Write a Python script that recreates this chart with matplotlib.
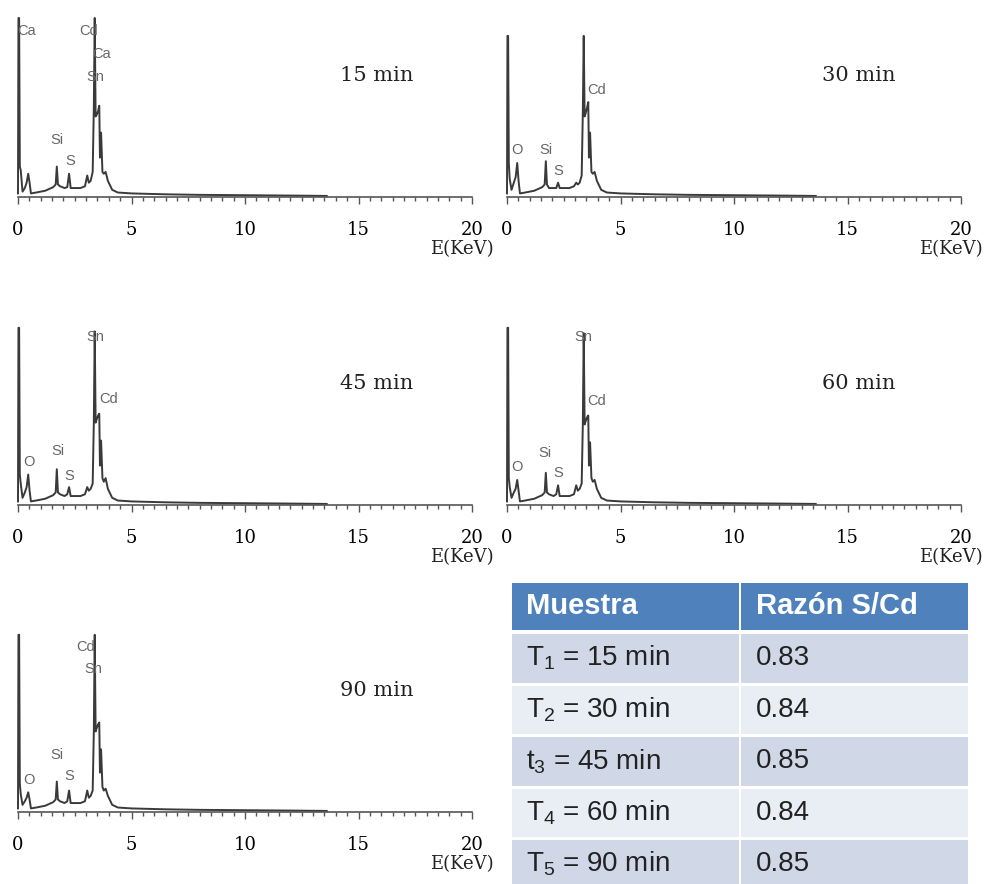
import matplotlib.pyplot as plt
from matplotlib.patches import Rectangle
from matplotlib.ticker import MultipleLocator

plt.rcParams['mathtext.fontset'] = 'custom'
plt.rcParams['mathtext.rm'] = 'Liberation Sans'
plt.rcParams['mathtext.it'] = 'Liberation Sans'
plt.rcParams['mathtext.bf'] = 'Liberation Sans:bold'

# EDS spectra, energy in keV, intensity normalised to the tallest peak
energy = [0.00, 0.02, 0.05, 0.08, 0.12, 0.20, 0.30, 0.38, 0.45, 0.51,
          0.57, 0.80, 1.20, 1.55, 1.66, 1.71, 1.76, 1.85, 2.05, 2.17,
          2.25, 2.32, 2.45, 2.75, 2.95, 3.05, 3.12, 3.20, 3.29, 3.34,
          3.38, 3.42, 3.47, 3.53, 3.58, 3.61, 3.66, 3.72, 3.78, 3.86,
          3.96, 4.15, 4.40, 5.00, 6.50, 8.00, 10.0, 12.0, 13.6]

counts_15 = [0.02, 1.00, 1.00, 0.17, 0.15, 0.03, 0.05, 0.08, 0.13, 0.08,
             0.02, 0.025, 0.035, 0.055, 0.07, 0.17, 0.07, 0.06, 0.05, 0.055,
             0.13, 0.05, 0.05, 0.05, 0.06, 0.12, 0.08, 0.09, 0.14, 0.50,
             1.00, 0.45, 0.46, 0.48, 0.51, 0.22, 0.36, 0.14, 0.13, 0.14,
             0.09, 0.04, 0.025, 0.02, 0.015, 0.012, 0.01, 0.008, 0.006]
counts_30 = [0.02, 0.90, 0.90, 0.19, 0.10, 0.04, 0.08, 0.11, 0.19, 0.09,
             0.02, 0.025, 0.035, 0.055, 0.07, 0.20, 0.07, 0.05, 0.05, 0.05,
             0.08, 0.05, 0.05, 0.05, 0.06, 0.08, 0.07, 0.08, 0.12, 0.47,
             0.90, 0.45, 0.47, 0.50, 0.53, 0.22, 0.36, 0.14, 0.13, 0.14,
             0.09, 0.04, 0.025, 0.02, 0.015, 0.012, 0.01, 0.008, 0.006]
counts_45 = [0.02, 0.99, 0.99, 0.17, 0.12, 0.04, 0.07, 0.10, 0.17, 0.08,
             0.02, 0.025, 0.035, 0.055, 0.07, 0.20, 0.07, 0.06, 0.05, 0.06,
             0.10, 0.05, 0.05, 0.05, 0.06, 0.10, 0.08, 0.09, 0.12, 0.46,
             0.97, 0.46, 0.48, 0.50, 0.51, 0.22, 0.36, 0.15, 0.13, 0.15,
             0.09, 0.04, 0.025, 0.02, 0.015, 0.012, 0.01, 0.008, 0.006]
counts_60 = [0.02, 0.99, 0.99, 0.15, 0.10, 0.04, 0.07, 0.09, 0.14, 0.08,
             0.02, 0.025, 0.035, 0.055, 0.07, 0.18, 0.07, 0.06, 0.05, 0.06,
             0.11, 0.05, 0.05, 0.05, 0.06, 0.11, 0.08, 0.09, 0.12, 0.45,
             0.96, 0.45, 0.47, 0.49, 0.50, 0.22, 0.35, 0.15, 0.13, 0.14,
             0.09, 0.04, 0.025, 0.02, 0.015, 0.012, 0.01, 0.008, 0.006]
counts_90 = [0.02, 0.99, 0.99, 0.16, 0.10, 0.04, 0.06, 0.08, 0.11, 0.07,
             0.02, 0.025, 0.035, 0.055, 0.07, 0.17, 0.07, 0.06, 0.05, 0.06,
             0.12, 0.05, 0.05, 0.05, 0.06, 0.12, 0.08, 0.09, 0.12, 0.45,
             0.99, 0.45, 0.47, 0.49, 0.50, 0.22, 0.35, 0.14, 0.12, 0.13,
             0.09, 0.04, 0.025, 0.02, 0.015, 0.012, 0.01, 0.008, 0.006]

times = ["15 min", "30 min", "45 min", "60 min", "90 min"]
spectra = [counts_15, counts_30, counts_45, counts_60, counts_90]

# element tags: (name, energy, height)
peak_tags = [
    [("Ca", 0.37, 0.93), ("Cd", 3.10, 0.93), ("Ca", 3.68, 0.80),
     ("Sn", 3.39, 0.67), ("Si", 1.72, 0.32), ("S", 2.30, 0.20)],
    [("Cd", 3.96, 0.60), ("O", 0.44, 0.26), ("Si", 1.71, 0.26),
     ("S", 2.24, 0.145)],
    [("Sn", 3.39, 0.94), ("Cd", 4.00, 0.59), ("O", 0.48, 0.24),
     ("Si", 1.76, 0.30), ("S", 2.25, 0.16)],
    [("Sn", 3.38, 0.94), ("Cd", 3.96, 0.58), ("O", 0.44, 0.21),
     ("Si", 1.67, 0.29), ("S", 2.24, 0.18)],
    [("Cd", 3.00, 0.92), ("Sn", 3.30, 0.80), ("O", 0.48, 0.18),
     ("Si", 1.72, 0.32), ("S", 2.25, 0.20)],
]

samples = [r"T$_1$ = 15 min", r"T$_2$ = 30 min", r"t$_3$ = 45 min",
           r"T$_4$ = 60 min", r"T$_5$ = 90 min"]
ratios = ["0.83", "0.84", "0.85", "0.84", "0.85"]

W, H = 984, 884
fig = plt.figure(figsize=(W / 100, H / 100), dpi=100)

# panel placement in pixels: left edge of x=0 and baseline row
panel_px = [(18, 197), (507, 197), (18, 505), (507, 505), (18, 812)]
pw, ph = 454, 179

for i, (x0, yb) in enumerate(panel_px):
    ax = fig.add_axes([x0 / W, 1 - yb / H, pw / W, ph / H])
    ax.plot(energy, spectra[i], color="#3a3a3a", lw=1.4, clip_on=False)
    ax.set_xlim(0, 20)
    ax.set_ylim(0, 1)
    for s in ["top", "right", "left"]:
        ax.spines[s].set_visible(False)
    ax.spines["bottom"].set_color("#555555")
    ax.spines["bottom"].set_linewidth(1.2)
    ax.set_yticks([])
    ax.xaxis.set_major_locator(MultipleLocator(5))
    ax.xaxis.set_minor_locator(MultipleLocator(0.5))
    ax.tick_params(axis="x", which="major", length=5, width=1, color="#555555",
                   pad=12, labelsize=13)
    ax.tick_params(axis="x", which="minor", length=3, width=1, color="#555555")
    for lab in ax.get_xticklabels():
        lab.set_fontfamily("DejaVu Serif")
    ax.patch.set_alpha(0)

    ax.text(1.048, -0.29, "E(KeV)", transform=ax.transAxes, ha="right",
            va="center", fontsize=13, family="DejaVu Serif", color="#222222")
    tx = 15.8 if x0 < 100 else 15.5
    ax.text(tx, 0.68, times[i], ha="center", va="center", fontsize=15,
            family="DejaVu Serif", color="#222222")
    for name, e, h in peak_tags[i]:
        ax.text(e, h, name, ha="center", va="center", fontsize=10.5,
                family="Liberation Sans", color="#666666")

# S/Cd ratio table
tab = fig.add_axes([0, 0, 1, 1])
tab.set_xlim(0, W)
tab.set_ylim(H, 0)
tab.axis("off")
tab.patch.set_alpha(0)

left, split, right = 512, 739, 968
head_top, head_bot = 583, 630
row_top, row_step, row_h = 634, 51.5, 48.5

tab.add_patch(Rectangle((left, head_top), split - left, head_bot - head_top,
                        color="#4f81bd", lw=0))
tab.add_patch(Rectangle((split + 2, head_top), right - split - 2,
                        head_bot - head_top, color="#4f81bd", lw=0))
hy = (head_top + head_bot) / 2
tab.text(526, hy, "Muestra", color="white", fontsize=21, fontweight="bold",
         family="Liberation Sans", va="center", ha="left")
tab.text(756, hy, "Razón S/Cd", color="white", fontsize=21, fontweight="bold",
         family="Liberation Sans", va="center", ha="left")

for k, (lab, val) in enumerate(zip(samples, ratios)):
    top = row_top + k * row_step
    fill = "#d0d8e8" if k % 2 == 0 else "#e9edf4"
    tab.add_patch(Rectangle((left, top), split - left, row_h, color=fill, lw=0))
    tab.add_patch(Rectangle((split + 2, top), right - split - 2, row_h,
                            color=fill, lw=0))
    cy = top + row_h / 2
    tab.text(526, cy, lab, fontsize=20, family="Liberation Sans",
             color="#222222", va="center", ha="left")
    tab.text(756, cy, val, fontsize=20, family="Liberation Sans",
             color="#222222", va="center", ha="left")

fig.savefig("out.png", dpi=100, facecolor="white")
